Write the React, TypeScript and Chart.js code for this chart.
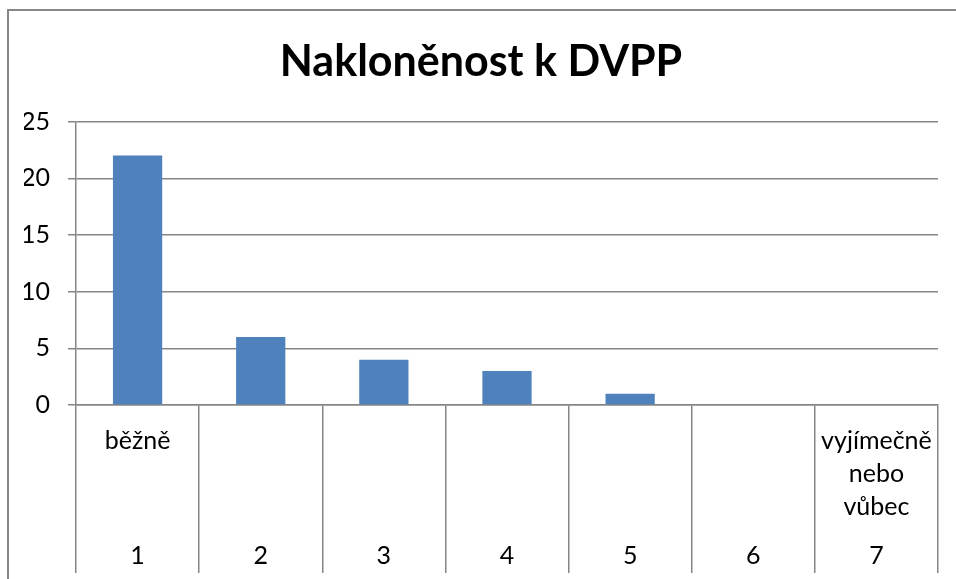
import React, { useEffect, useRef } from "react";
import { Chart, registerables } from "chart.js";

Chart.register(...registerables);

const title = "Nakloněnost k DVPP";
const categories = ["1", "2", "3", "4", "5", "6", "7"];
const groupLabels: string[][] = [["běžně"], [], [], [], [], [], ["vyjímečně", "nebo", "vůbec"]];
const values = [22, 6, 4, 3, 1, 0, 0];
const yTicks = { min: 0, max: 25, step: 5 };

const FONT = "Lato, 'Open Sans', sans-serif";
const GRID = "#868686";
const BAR = "#4F81BD";
const LABEL_SIZE = 25;

export default function App() {
  const ref = useRef<HTMLCanvasElement>(null);
  useEffect(() => {
    if (!ref.current) return;
    const framePlugin = {
      id: "frame",
      beforeDraw(chart: any) {
        const ctx = chart.ctx;
        ctx.save();
        ctx.fillStyle = "#ffffff";
        ctx.fillRect(0, 0, chart.width, chart.height);
        ctx.strokeStyle = "#878787";
        ctx.lineWidth = 2;
        ctx.strokeRect(8, 10, chart.width + 100, chart.height + 100);
        ctx.restore();
      },
    };
    const groupPlugin = {
      id: "groupLabels",
      afterDraw(chart: any) {
        const ctx = chart.ctx;
        const xs = chart.scales.x;
        ctx.save();
        ctx.font = `${LABEL_SIZE}px ${FONT}`;
        ctx.fillStyle = "#000";
        ctx.textAlign = "center";
        ctx.textBaseline = "middle";
        groupLabels.forEach((lines, i) => {
          const x = xs.getPixelForValue(i);
          lines.forEach((t, j) => {
            ctx.fillText(t, x, xs.top + 36 + j * 33);
          });
        });
        ctx.restore();
      },
    };
    const chart = new Chart(ref.current, {
      type: "bar",
      data: {
        labels: categories,
        datasets: [
          {
            data: values,
            backgroundColor: BAR,
            borderWidth: 0,
            categoryPercentage: 1,
            barPercentage: 0.4,
          },
        ],
      },
      options: {
        animation: false,
        responsive: false,
        layout: { padding: { left: 24, right: 18, top: 0, bottom: 0 } },
        plugins: {
          legend: { display: false },
          tooltip: { enabled: false },
          title: {
            display: true,
            text: title,
            color: "#000",
            font: { family: FONT, size: 43, weight: "bold", lineHeight: 1.2 },
            padding: { top: 36, bottom: 34 },
          },
        },
        scales: {
          x: {
            offset: true,
            grid: {
              offset: true,
              drawOnChartArea: false,
              drawTicks: true,
              tickLength: 168,
              color: GRID,
              lineWidth: 1.5,
            },
            border: { display: true, color: GRID, width: 1.5 },
            ticks: {
              color: "#000",
              font: { family: FONT, size: LABEL_SIZE, lineHeight: 1.2 },
              padding: -32,
              maxRotation: 0,
              autoSkip: false,
            },
            afterFit(scale: any) {
              scale.height = 174;
            },
          },
          y: {
            min: yTicks.min,
            max: yTicks.max,
            ticks: {
              stepSize: yTicks.step,
              color: "#000",
              font: { family: FONT, size: LABEL_SIZE },
              padding: 18,
            },
            grid: { color: GRID, lineWidth: 1.5, tickLength: 8 },
            border: { display: true, color: GRID, width: 1.5 },
            afterFit(scale: any) {
              scale.width = 52;
            },
          },
        },
      },
      plugins: [framePlugin, groupPlugin],
    });
    return () => chart.destroy();
  }, []);
  return (
    <div style={{ position: "fixed", left: 0, top: 0, width: 956, height: 579, background: "#fff" }}>
      <canvas ref={ref} width={956} height={579} style={{ display: "block" }} />
    </div>
  );
}
